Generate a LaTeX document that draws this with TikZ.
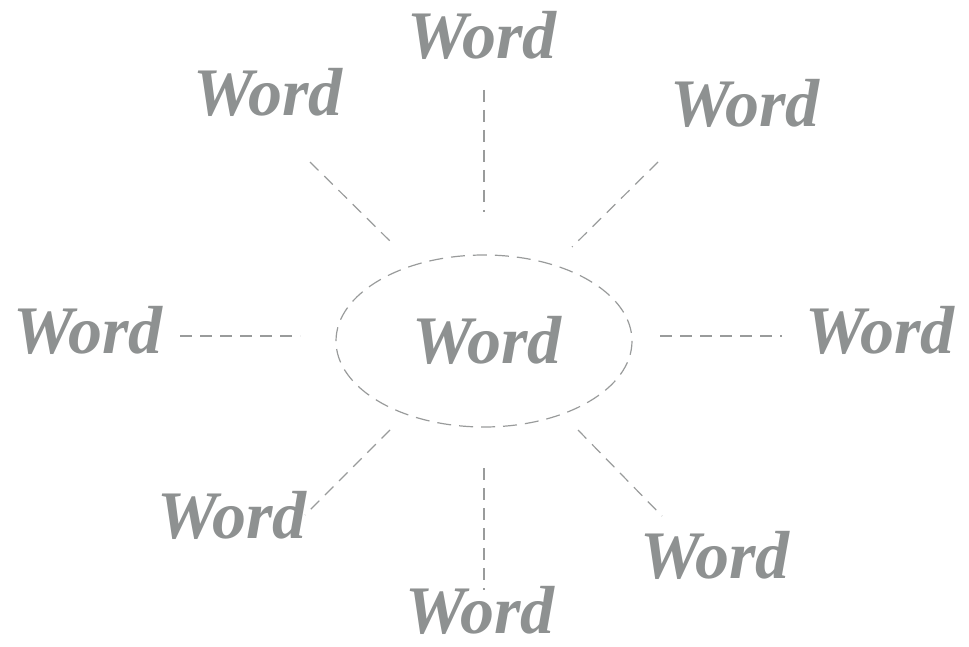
\documentclass[tikz,border=0pt]{standalone}
\usepackage{fontspec}
\setmainfont{Liberation Serif}
\definecolor{wordgray}{HTML}{8E9191}
\definecolor{linegray}{HTML}{999B9B}
\tikzset{
  wordlabel/.style={text=wordgray, font=\fontsize{68}{68}\selectfont\bfseries\itshape, inner sep=0pt},
  dashline/.style={draw=linegray, line width=1.2pt, dash pattern=on 12pt off 8pt},
}
\begin{document}
\begin{tikzpicture}[x=1pt, y=-1pt]
\useasboundingbox (0,0) rectangle (969,647);
% center
\draw[dashline, dash pattern=on 14pt off 8pt] (484,341) ellipse [x radius=148, y radius=86];
\node[wordlabel] (c) at (487,340) {Word};
% outer words
\node[wordlabel] (t) at (482,35) {Word};
\node[wordlabel] (tl) at (268,92) {Word};
\node[wordlabel] (tr) at (745,103) {Word};
\node[wordlabel] (l) at (88,330) {Word};
\node[wordlabel] (r) at (880,330) {Word};
\node[wordlabel] (bl) at (232,515) {Word};
\node[wordlabel] (br) at (715,555) {Word};
\node[wordlabel] (b) at (480,610) {Word};
% connector end points
\coordinate (t1) at (484,90);   \coordinate (t2) at (484,212);
\coordinate (tl1) at (310,162); \coordinate (tl2) at (395,246);
\coordinate (tr1) at (658,162); \coordinate (tr2) at (572,247);
\coordinate (l1) at (180,336);  \coordinate (l2) at (300,336);
\coordinate (r1) at (660,336);  \coordinate (r2) at (782,336);
\coordinate (bl1) at (390,430); \coordinate (bl2) at (305,515);
\coordinate (br1) at (578,430); \coordinate (br2) at (662,516);
\coordinate (b1) at (484,468);  \coordinate (b2) at (484,590);
\draw[dashline] (t1) -- (t2);
\draw[dashline] (tl1) -- (tl2);
\draw[dashline] (tr1) -- (tr2);
\draw[dashline] (l1) -- (l2);
\draw[dashline] (r1) -- (r2);
\draw[dashline] (bl1) -- (bl2);
\draw[dashline] (br1) -- (br2);
\draw[dashline] (b1) -- (b2);
\end{tikzpicture}
\end{document}
